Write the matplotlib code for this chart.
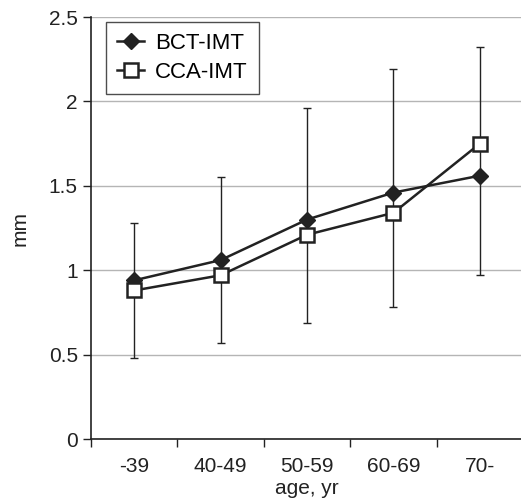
import matplotlib
matplotlib.use('Agg')
import matplotlib.pyplot as plt
import numpy as np

# Data
ages = ['-39', '40-49', '50-59', '60-69', '70-']
bct_imt = [0.94, 1.06, 1.30, 1.46, 1.56]
cca_imt = [0.88, 0.97, 1.21, 1.34, 1.75]
err_low = [0.48, 0.57, 0.69, 0.78, 0.97]
err_high = [1.28, 1.55, 1.96, 2.19, 2.32]

plt.rcParams['font.family'] = ['Liberation Sans', 'DejaVu Sans']

fig = plt.figure(figsize=(5.21, 5.03), dpi=100)
ax = fig.add_axes([0.1747, 0.1272, 0.8293, 0.839])

x = np.arange(len(ages))

# range bars
low = np.array(err_low)
high = np.array(err_high)
ax.errorbar(x, low, yerr=[np.zeros(len(x)), high - low], fmt='none',
            ecolor='#222222', elinewidth=1, capsize=3, capthick=1, zorder=2)

ax.plot(x, bct_imt, color='#222222', lw=1.8, marker='D', markersize=8.5,
        markerfacecolor='#222222', markeredgecolor='#222222', label='BCT-IMT', zorder=3)
ax.plot(x, cca_imt, color='#222222', lw=1.8, marker='s', markersize=10,
        markerfacecolor='white', markeredgecolor='#222222', markeredgewidth=1.8,
        label='CCA-IMT', zorder=4)

ax.set_xlim(-0.5, 4.5)
ax.set_ylim(0, 2.5)
ax.set_yticks([0, 0.5, 1, 1.5, 2, 2.5])
ax.set_yticklabels(['0', '0.5', '1', '1.5', '2', '2.5'])
ax.set_xticks(x)
ax.set_xticklabels(ages)
ax.set_xticks(np.arange(-0.5, 4.6, 1), minor=True)
ax.tick_params(axis='x', which='major', length=0, pad=13, labelsize=15, colors='#222222')
ax.tick_params(axis='x', which='minor', length=6, width=1, direction='out', color='#222222')
ax.tick_params(axis='y', length=6, width=1, direction='out', labelsize=15, colors='#222222')

ax.grid(axis='y', color='#b5b5b5', lw=1)
ax.set_axisbelow(True)
for s in ['top', 'right']:
    ax.spines[s].set_visible(False)
for s in ['left', 'bottom']:
    ax.spines[s].set_color('#222222')
    ax.spines[s].set_linewidth(1.2)

ax.set_xlabel('age, yr', fontsize=15, color='#222222', labelpad=2)
ax.set_ylabel('mm', fontsize=15, color='#222222', labelpad=14)

leg = ax.legend(loc='upper left', bbox_to_anchor=(0.035, 0.988), fontsize=16,
                frameon=True, fancybox=False, borderpad=0.5, labelspacing=0.35,
                handlelength=1.2, handletextpad=0.5, borderaxespad=0)
leg.get_frame().set_edgecolor('#222222')
leg.get_frame().set_linewidth(1)

plt.savefig('out.png', dpi=100)
